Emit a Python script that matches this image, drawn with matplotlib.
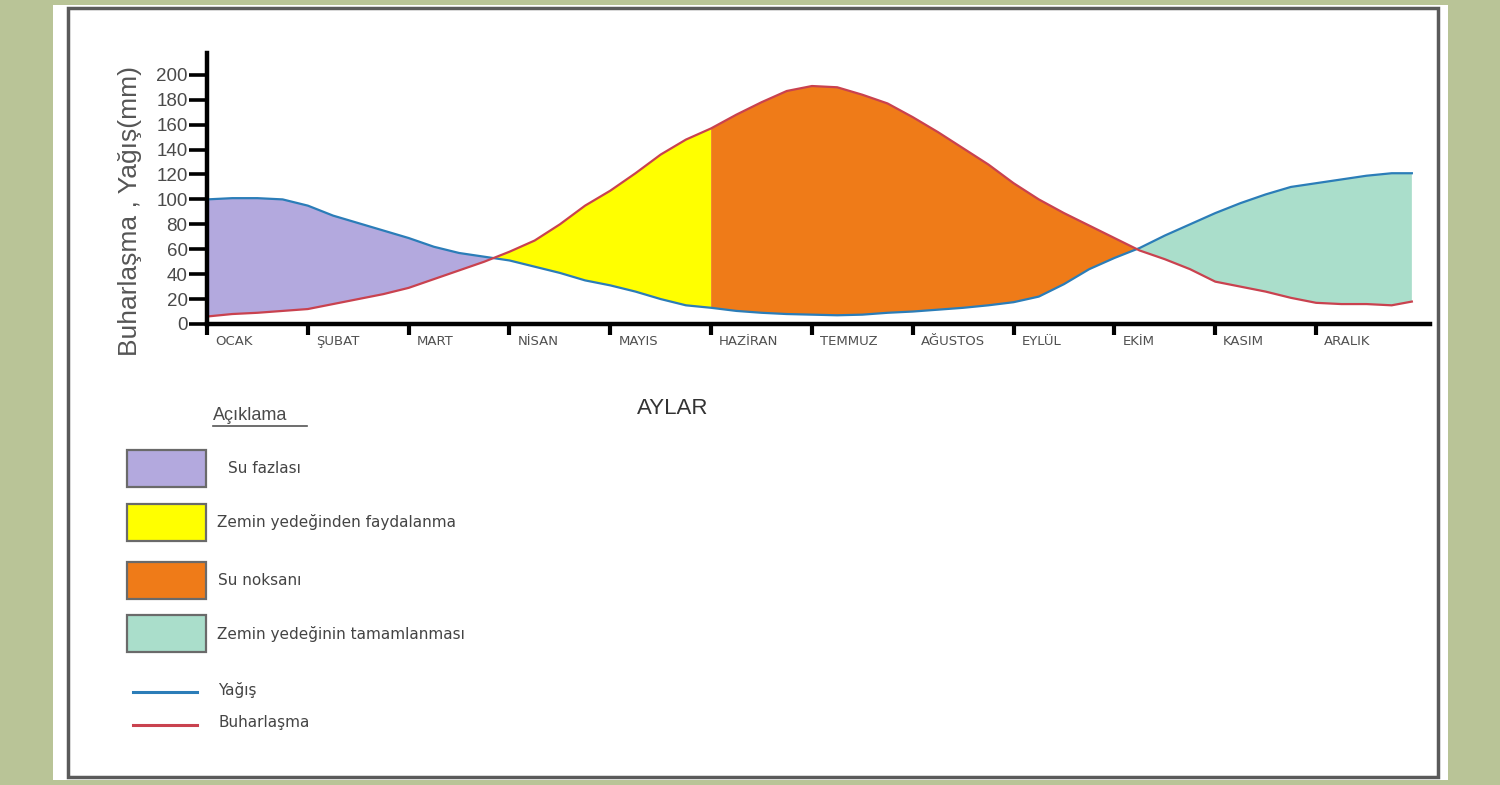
import matplotlib
matplotlib.use('Agg')
import matplotlib.pyplot as plt
import numpy as np
from matplotlib.patches import Rectangle
from matplotlib.lines import Line2D
from matplotlib.transforms import offset_copy

# ---------------- data ----------------
months = ['OCAK', 'ŞUBAT', 'MART', 'NİSAN', 'MAYIS', 'HAZİRAN',
          'TEMMUZ', 'AĞUSTOS', 'EYLÜL', 'EKİM', 'KASIM', 'ARALIK']
x_month = [0, 0.25, 0.5, 0.75, 1, 1.25, 1.5, 1.75, 2, 2.25, 2.5, 2.75,
           3, 3.25, 3.5, 3.75, 4, 4.25, 4.5, 4.75, 5, 5.25, 5.5, 5.75,
           6, 6.25, 6.5, 6.75, 7, 7.25, 7.5, 7.75, 8, 8.25, 8.5, 8.75,
           9, 9.25, 9.5, 9.75, 10, 10.25, 10.5, 10.75, 11, 11.25, 11.5, 11.75, 11.95]
yagis = [100, 101, 101, 100, 95, 87, 81, 75, 69, 62, 57, 54,
         51, 46, 41, 35, 31, 26, 20, 15, 13, 10.5, 9, 8,
         7.5, 7, 7.5, 9, 10, 11.5, 13, 15, 17.5, 22, 32, 44,
         53, 61, 71, 80, 89, 97, 104, 110, 113, 116, 119, 121, 121]
buharlasma = [6, 8, 9, 10.5, 12, 16, 20, 24, 29, 36, 43, 50,
              58, 67, 80, 95, 107, 121, 136, 148, 157, 168, 178, 187,
              191, 190, 184, 177, 166, 154, 141, 128, 113, 100, 89, 79,
              69, 59, 52, 44, 34, 30, 26, 21, 17, 16, 16, 15, 18]
y_ticks = list(range(0, 201, 20))
split_month = 5  # yellow -> orange boundary (HAZİRAN)

legend_labels = ['Su fazlası', 'Zemin yedeğinden faydalanma', 'Su noksanı',
                 'Zemin yedeğinin tamamlanması']
legend_colors = ['#b3a9de', '#ffff00', '#ef7b18', '#aadecb']
line_labels = ['Yağış', 'Buharlaşma']
line_colors = ['#2b7db8', '#c9424f']

x = np.array(x_month)
b = np.array(yagis)
r = np.array(buharlasma)

W, H = 1500, 785
def fx(px):
    return px / W
def fy(py):
    return 1 - py / H

fig = plt.figure(figsize=(15, 7.85), dpi=100)
fig.patch.set_facecolor('#b9c497')

# white panel + border
fig.add_artist(Rectangle((fx(53), fy(780)), fx(1448) - fx(53), fy(5) - fy(780),
                         transform=fig.transFigure, facecolor='white', edgecolor='none', zorder=0))
fig.add_artist(Rectangle((fx(68), fy(777)), fx(1438) - fx(68), fy(8) - fy(777),
                         transform=fig.transFigure, facecolor='none', edgecolor='#5a5a5a',
                         linewidth=2.5, zorder=1))

ax = fig.add_axes([fx(207), fy(324), fx(1430) - fx(207), fy(53) - fy(324)])
ax.set_facecolor('none')
ax.set_xlim(0, 12.13)
ax.set_ylim(0, 217.5)

# fills
ax.fill_between(x, b, r, where=(b >= r) & (x < 6), interpolate=True,
                facecolor=legend_colors[0], edgecolor='none', zorder=1)
ax.fill_between(x, b, r, where=(b >= r) & (x > 6), interpolate=True,
                facecolor=legend_colors[3], edgecolor='none', zorder=1)
mask_y = x <= split_month
ax.fill_between(x[mask_y], r[mask_y], b[mask_y], where=r[mask_y] >= b[mask_y], interpolate=True,
                facecolor=legend_colors[1], edgecolor='none', zorder=1)
mask_o = x >= split_month
ax.fill_between(x[mask_o], r[mask_o], b[mask_o], where=r[mask_o] >= b[mask_o], interpolate=True,
                facecolor=legend_colors[2], edgecolor='none', zorder=1)

# lines
ax.plot(x, b, color=line_colors[0], lw=1.6, zorder=3, solid_joinstyle='round')
ax.plot(x, r, color=line_colors[1], lw=1.6, zorder=3, solid_joinstyle='round')

# axes styling
for s in ['top', 'right']:
    ax.spines[s].set_visible(False)
for s in ['left', 'bottom']:
    ax.spines[s].set_linewidth(3.2)
    ax.spines[s].set_color('black')
    ax.spines[s].set_zorder(4)

ax.set_yticks(y_ticks)
ax.set_yticklabels([str(v) for v in y_ticks])
ax.tick_params(axis='y', direction='out', length=13, width=2.6, pad=1,
               labelsize=13.5, labelcolor='#4a4a4a', color='black')
for lab in ax.get_yticklabels():
    lab.set_fontfamily('Liberation Sans')

ax.set_xticks(range(len(months)))
ax.set_xticklabels([''] * len(months))
ax.tick_params(axis='x', direction='out', length=8, width=3, color='black')

trans = offset_copy(ax.get_xaxis_transform(), fig=fig, x=8 / 100 * 72, y=0, units='points')
for i, m in enumerate(months):
    ax.text(i, -0.065, m, transform=trans, ha='left', va='center',
            fontsize=9.5, color='#505050', family='DejaVu Sans')

# axis titles
fig.text(fx(130), fy(211), 'Buharlaşma , Yağış(mm)', rotation=90, ha='center', va='center',
         fontsize=19, color='#555555', family='Liberation Sans')
fig.text(fx(673), fy(409), 'AYLAR', ha='center', va='center',
         fontsize=16, color='#333333', family='Liberation Sans')

# legend
fig.text(fx(213), fy(416), 'Açıklama', ha='left', va='center', fontsize=13,
         color='#4a4a4a', family='Liberation Sans')
fig.add_artist(Line2D([fx(213), fx(307)], [fy(426), fy(426)], transform=fig.transFigure,
                      color='#555555', lw=1.2))

box_tops = [450, 504, 562, 615]
box_h = 37
text_x = [228, 217, 218, 217]
for top, col, lab, tx in zip(box_tops, legend_colors, legend_labels, text_x):
    fig.add_artist(Rectangle((fx(127), fy(top + box_h)), fx(206) - fx(127), fy(top) - fy(top + box_h),
                             transform=fig.transFigure, facecolor=col, edgecolor='#6a6a6a',
                             linewidth=1.6, zorder=2))
    fig.text(fx(tx), fy(top + box_h / 2), lab, ha='left', va='center', fontsize=11,
             color='#444444', family='DejaVu Sans')

line_ys = [692, 725]
for ly, col, lab in zip(line_ys, line_colors, line_labels):
    fig.add_artist(Line2D([fx(133), fx(197)], [fy(ly), fy(ly)], transform=fig.transFigure,
                          color=col, lw=2.2))
    fig.text(fx(218), fy(ly - 2), lab, ha='left', va='center', fontsize=11,
             color='#444444', family='DejaVu Sans')

fig.savefig('out.png', dpi=100, facecolor=fig.get_facecolor())
